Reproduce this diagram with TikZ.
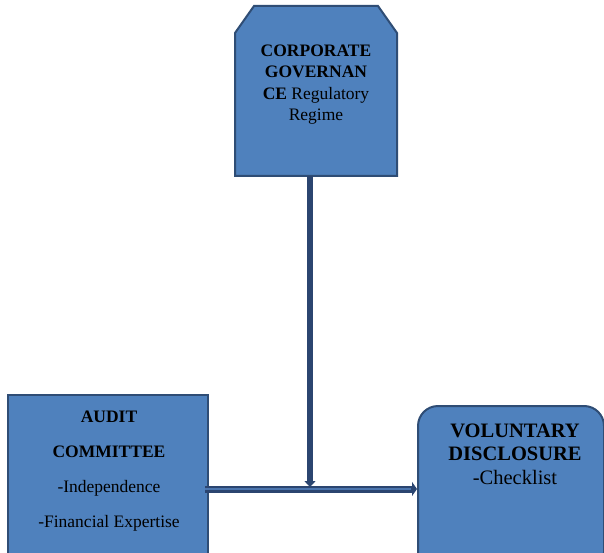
\documentclass[tikz,border=0pt]{standalone}
\usepackage{fontspec}
\setmainfont{Liberation Serif}
\usetikzlibrary{arrows.meta}
\definecolor{boxfill}{HTML}{4F81BD}
\definecolor{boxline}{HTML}{2F4D75}
\definecolor{linkdark}{HTML}{2B4570}
\definecolor{linklight}{HTML}{4B75AE}
\begin{document}
\begin{tikzpicture}[x=1pt,y=-1pt,
  box/.style={draw=boxline, line width=2pt, fill=boxfill, inner sep=0pt},
  boxtext/.style={align=center, inner sep=0pt, text=black, anchor=base},
  link/.style={draw=linkdark, line width=7pt, -{Triangle[length=5pt,width=14pt]}},
  linkcore/.style={draw=linklight, line width=2.5pt, shorten >=6pt},
 ]
\useasboundingbox (0,0) rectangle (604,553);
\fill[white] (0,0) rectangle (604,553);
\clip (0,0) rectangle (604,553);

% corporate governance box (chamfered top corners)
\path[box] (235,176) -- (235,33) -- (254,6) -- (378,6) -- (397,33) -- (397,176) -- cycle;
\node[inner sep=0pt, minimum width=162pt, minimum height=170pt] (cg) at (316,91) {};
% base anchor sits on the last line
\node[boxtext, font=\fontsize{17.5}{21.5}\selectfont] (cgtext) at (316,121)
  {\textbf{CORPORATE}\\\textbf{GOVERNAN}\\\textbf{CE} Regulatory\\Regime};

% audit committee box
\node[box, minimum width=200pt, minimum height=188pt, anchor=north west] (ac) at (7,394) {};
\node[boxtext, font=\fontsize{17.5}{35}\selectfont] (actext) at (109,527)
  {\textbf{AUDIT}\\\textbf{COMMITTEE}\\-Independence\\-Financial Expertise};

% voluntary disclosure box
\node[box, rounded corners=20pt, minimum width=186pt, minimum height=166pt, anchor=north west] (vd) at (417,405) {};
\node[boxtext, font=\fontsize{20.5}{23.5}\selectfont] (vdtext) at (515,484)
  {\textbf{VOLUNTARY}\\\textbf{DISCLOSURE}\\-Checklist};

% connectors
\coordinate (join) at (310,487);
\coordinate (cgout) at ([xshift=-6pt]cg.south);
\coordinate (acout) at ([xshift=-4pt]ac.east);
\draw[link, line width=6.5pt, -{Triangle[length=6pt,width=11pt]}] (cgout) -- (join);
\draw[link] (acout) -- (vd.west);
\draw[linkcore] (acout) -- (vd.west);
\end{tikzpicture}
\end{document}
